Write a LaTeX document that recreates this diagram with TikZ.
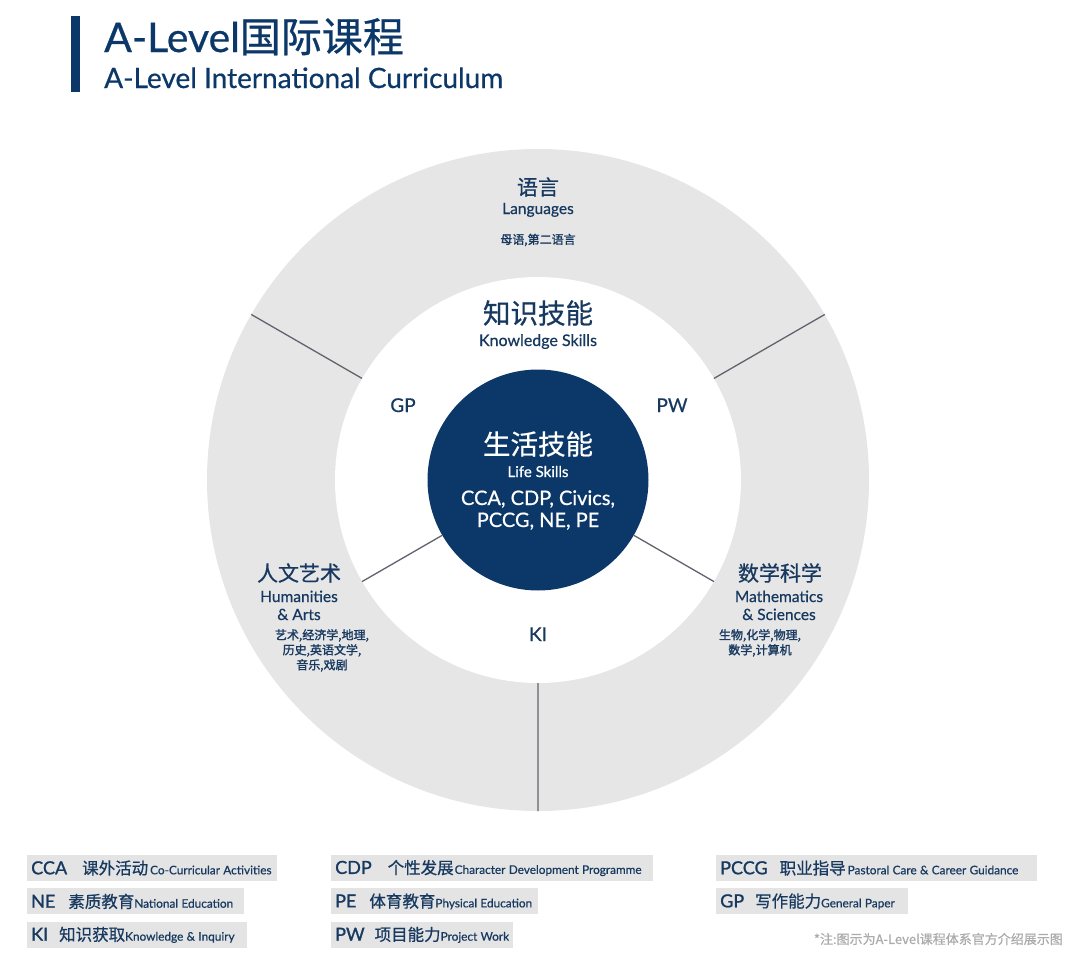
\documentclass[tikz,border=0pt]{standalone}
\usepackage{fontspec}
\setmainfont{Lato}[FakeBold=0.6]
\newfontfamily\cjk{Noto Sans CJK SC}[FakeBold=0.6]
\newfontfamily\cjkheavy{Noto Sans CJK SC}[FakeBold=1.6]
\newfontfamily\latheavy{Lato}[FakeBold=1.2]
\usetikzlibrary{positioning}

\definecolor{navy}{HTML}{0B3868}
\definecolor{ink}{HTML}{17395F}
\definecolor{ringgray}{HTML}{E6E6E6}
\definecolor{boxgray}{HTML}{E4E4E4}
\definecolor{spokegray}{HTML}{62626E}
\definecolor{notegray}{HTML}{ABABAB}

\newcommand{\setfs}[2]{\fontsize{#1}{#2}\selectfont}
\newcommand{\legabbr}[1]{{\latheavy\setfs{18}{18}#1}}
\newcommand{\legzh}[1]{{\cjk\setfs{16.5}{16.5}#1}}
\newcommand{\legen}[1]{{\setfs{11.8}{11.8}#1}}

\begin{document}
\begin{tikzpicture}[x=1pt,y=-1pt,
    txt/.style={text=ink,inner sep=0pt,align=center},
    spoke/.style={draw=spokegray,line width=1.3pt},
    legbox/.style={fill=boxgray,text=ink,minimum height=26pt,inner xsep=4pt,inner ysep=0pt,align=left,anchor=west}]

    \fill[white] (0,0) rectangle (1080,964);
    \useasboundingbox (0,0) rectangle (1080,964);

    % heading
    \fill[navy] (71,16) rectangle (80,92);
    \node(title)[txt,text=navy,anchor=base west,font=\setfs{41}{41}] at (104,52) {A-Level{\cjk 国际课程}};
    \node(subtitle)[txt,text=navy,anchor=base west,font=\setfs{28}{28}] at (104,88) {A-Level International Curriculum};

    % rings
    \node(ring)[circle,fill=ringgray,minimum size=662pt,inner sep=0pt] at (538,480) {};
    \node(hole)[circle,fill=white,minimum size=406pt,inner sep=0pt] at (ring.center) {};
    \node(core)[circle,fill=navy,minimum size=221pt,inner sep=0pt] at (ring.center) {};

    \draw[spoke] (hole.150) -- (ring.150)
                 (hole.30) -- (ring.30)
                 (hole.270) -- (ring.270)
                 (core.210) -- (hole.210)
                 (core.330) -- (hole.330);

    % outer ring
    \node(lang)[txt,font=\cjk\setfs{21}{21}] at (538,187) {语言};
    \node(langen)[txt,anchor=base,font=\setfs{15.5}{15.5}] at (538,214) {Languages};
    \node(langsub)[txt,font=\cjkheavy\setfs{12}{12}] at (538,240) {母语,第二语言};

    \node(hum)[txt,font=\cjk\setfs{21}{21}] at (299,573) {人文艺术};
    \node(humen)[txt,anchor=base,font=\setfs{15.5}{18}] at (299,620) {Humanities\\\& Arts};
    \node(humsub)[txt,anchor=north,font=\cjkheavy\setfs{12}{15}] at (322,629) {艺术,经济学,地理,\\历史,英语文学,\\音乐,戏剧};

    \node(math)[txt,font=\cjk\setfs{21}{21}] at (780,573) {数学科学};
    \node(mathen)[txt,anchor=base,font=\setfs{15.5}{18}] at (779,620) {Mathematics\\\& Sciences};
    \node(mathsub)[txt,anchor=north,font=\cjkheavy\setfs{12}{15}] at (760,629) {生物,化学,物理,\\数学,计算机};

    % white ring
    \node(know)[txt,font=\cjk\setfs{27.5}{27.5}] at (538,313) {知识技能};
    \node(knowen)[txt,anchor=base,font=\setfs{16}{16}] at (538,346) {Knowledge Skills};
    \node(gp)[txt,anchor=base,font=\setfs{19}{19}] at (403,412) {GP};
    \node(pw)[txt,anchor=base,font=\setfs{19}{19}] at (672,412) {PW};
    \node(ki)[txt,anchor=base,font=\setfs{19}{19}] at (538,641) {KI};

    % core
    \node(life)[txt,text=white,font=\cjk\setfs{27.5}{27.5}] at (538,444) {生活技能};
    \node(lifeen)[txt,text=white,anchor=base,font=\setfs{15}{15}] at (538,477) {Life Skills};
    \node(lifesub)[txt,text=white,anchor=base,font=\setfs{20}{22}] at (538,527) {CCA, CDP, Civics,\\PCCG, NE, PE};

    % legend
    \node(cca)[legbox,text width=242pt] at (27,868) {\mbox{\legabbr{CCA}\hspace{15pt}\legzh{课外活动}\hspace{2pt}\legen{Co-Curricular Activities}}};
    \node(ne)[legbox,text width=209pt,below=7pt of cca.south west,anchor=north west] {\mbox{\legabbr{NE}\hspace{13pt}\legzh{素质教育}\legen{National Education}}};
    \node(kinq)[legbox,text width=212pt,below=7pt of ne.south west,anchor=north west] {\mbox{\legabbr{KI}\hspace{11pt}\legzh{知识获取}\legen{Knowledge \& Inquiry}}};

    \node(cdp)[legbox,text width=314pt] at (331,868) {\mbox{\legabbr{CDP}\hspace{16pt}\legzh{个性发展}\hspace{1pt}\legen{Character Development Programme}}};
    \node(pe)[legbox,text width=199pt,below=7pt of cdp.south west,anchor=north west] {\mbox{\legabbr{PE}\hspace{13pt}\legzh{体育教育}\legen{Physical Education}}};
    \node(pwork)[legbox,text width=174pt,below=7pt of pe.south west,anchor=north west] {\mbox{\legabbr{PW}\hspace{10pt}\legzh{项目能力}\legen{Project Work}}};

    \node(pccg)[legbox,text width=313pt] at (716,868) {\mbox{\legabbr{PCCG}\hspace{12pt}\legzh{职业指导}\hspace{2pt}\legen{Pastoral Care \& Career Guidance}}};
    \node(gpap)[legbox,text width=184pt,below=7pt of pccg.south west,anchor=north west] {\mbox{\legabbr{GP}\hspace{11pt}\legzh{写作能力}\legen{General Paper}}};

    \node(note)[txt,text=notegray,anchor=east,font=\cjk\setfs{13}{13}] at (1063,939) {*注:图示为A-Level课程体系官方介绍展示图};

\end{tikzpicture}
\end{document}
